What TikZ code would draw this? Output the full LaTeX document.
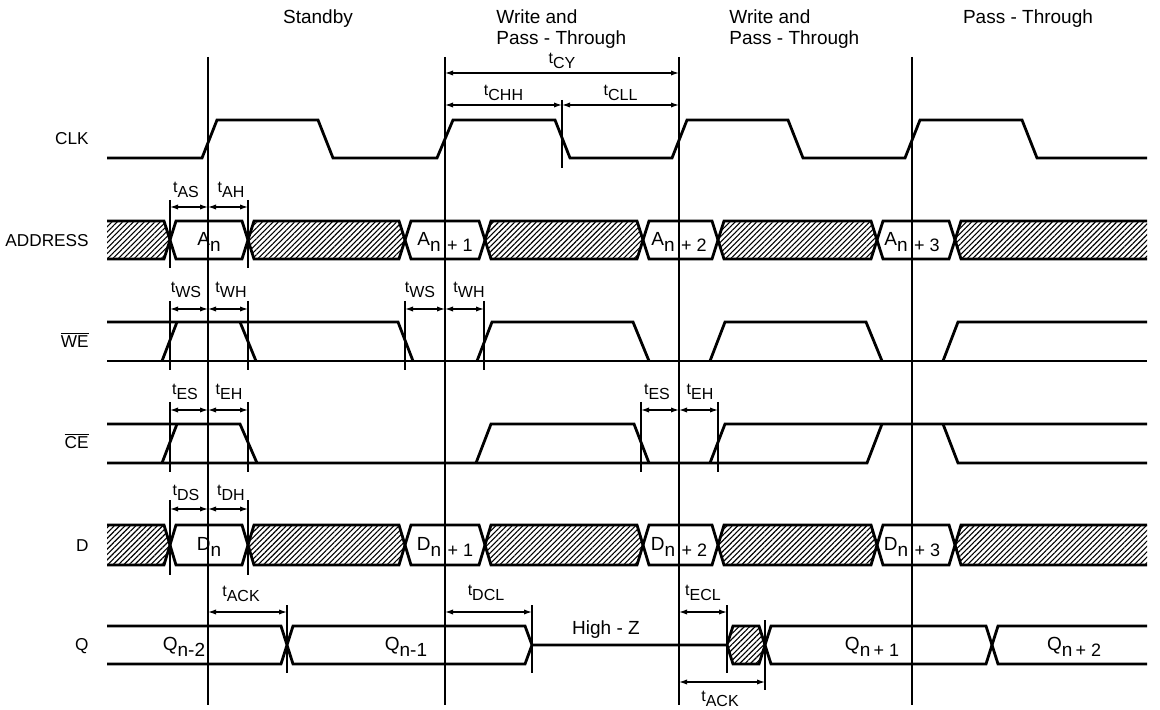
\documentclass[tikz,border=0pt]{standalone}
\usepackage{fontspec}
\setmainfont{Liberation Sans}
\usetikzlibrary{arrows.meta,patterns.meta}
\newcommand{\tsub}[1]{t\raisebox{-0.55ex}{#1}}
\newcommand{\isub}[2]{#1\raisebox{-0.55ex}{#2}}
\begin{document}
\begin{tikzpicture}[
		x=0.5pt, y=-0.5pt,
		every node/.style={font=\fontsize{9.5}{10.5}\selectfont, inner sep=1pt},
		signame/.style={anchor=east, font=\fontsize{8.6}{10}\selectfont},
		sig/.style={line width=1.4pt},
		refline/.style={line width=0.8pt},
		tick/.style={line width=0.7pt},
		dim/.style={<->, >={Latex[length=4pt,width=2.6pt]}, line width=0.6pt},
		tlab/.style={font=\fontsize{8}{9}\selectfont},
		busval/.style={font=\fontsize{9.5}{10.5}\selectfont},
		hatch/.style={pattern={Lines[angle=45,distance=1.9pt,line width=0.55pt]}},
		]
		
		\useasboundingbox (0,0) rectangle (1160,710);
		
		% mode headings
		\node (standby) at (318,19) {Standby};
		\node[align=left, anchor=west] (wpt1) at (494,29) {Write and\\Pass - Through};
		\node[align=left, anchor=west] (wpt2) at (727,29) {Write and\\Pass - Through};
		\node (passthru) at (1028,19) {Pass - Through};
		
		% signal names
		\node[signame] (clk)  at (91,139) {CLK};
		\node[signame] (addr) at (91,241) {ADDRESS};
		\node[signame] (we)   at (91,340) {$\overline{\mbox{WE}}$};
		\node[signame] (ce)   at (91,441) {$\overline{\mbox{CE}}$};
		\node[signame] (din)  at (91,546) {D};
		\node[signame] (qout) at (91,646) {Q};
		
		% clock edges
		\draw[refline] (208,57) -- (208,705);
		\draw[refline] (445,57) -- (445,705);
		\draw[refline] (679,57) -- (679,705);
		\draw[refline] (912,57) -- (912,705);
		\draw[tick] (562,100) -- (562,168);
		
		% CLK
		\draw[sig] (107,158) -- (202,158) -- (217,120) -- (318,120) -- (333,158)
		-- (437,158) -- (453,120) -- (555,120) -- (570,158) -- (672,158) -- (687,120)
		-- (788,120) -- (803,158) -- (905,158) -- (920,120) -- (1022,120) -- (1037,158)
		-- (1147,158);
		
		\draw[dim] (445,73) -- node[tlab, above=1pt] (tcy) {\tsub{CY}} (679,73);
		\draw[dim] (445,105) -- node[tlab, above=1pt] (tchh) {\tsub{CHH}} (562,105);
		\draw[dim] (562,105) -- node[tlab, above=1pt] (tcll) {\tsub{CLL}} (679,105);
		
		% ADDRESS
		\fill[hatch] (107,221) -- (164,221) -- (170,240) -- (164,259) -- (107,259) -- cycle
		(248,240) -- (254,221) -- (399,221) -- (405,240) -- (399,259) -- (254,259) -- cycle
		(485,240) -- (491,221) -- (637,221) -- (643,240) -- (637,259) -- (491,259) -- cycle
		(718,240) -- (724,221) -- (871,221) -- (877,240) -- (871,259) -- (724,259) -- cycle
		(955,240) -- (961,221) -- (1147,221) -- (1147,259) -- (961,259) -- cycle;
		\draw[sig] (107,221) -- (164,221) -- (176,259) -- (242,259) -- (254,221) -- (399,221)
		-- (411,259) -- (479,259) -- (491,221) -- (637,221) -- (649,259) -- (712,259)
		-- (724,221) -- (871,221) -- (883,259) -- (949,259) -- (961,221) -- (1147,221);
		\draw[sig] (107,259) -- (164,259) -- (176,221) -- (242,221) -- (254,259) -- (399,259)
		-- (411,221) -- (479,221) -- (491,259) -- (637,259) -- (649,221) -- (712,221)
		-- (724,259) -- (871,259) -- (883,221) -- (949,221) -- (961,259) -- (1147,259);
		\node[busval] (an)  at (209,242) {\isub{A}{n}};
		\node[busval] (an1) at (445,242) {\isub{A}{n\,\,{\small + 1}}};
		\node[busval] (an2) at (679,242) {\isub{A}{n\,\,{\small + 2}}};
		\node[busval] (an3) at (912,242) {\isub{A}{n\,\,{\small + 3}}};
		
		\draw[tick] (170,200) -- (170,268);
		\draw[tick] (248,200) -- (248,268);
		\draw[dim] (170,207) -- (208,207);
		\draw[dim] (208,207) -- (248,207);
		\node[tlab] (tas) at (186,190) {\tsub{AS}};
		\node[tlab] (tah) at (231,190) {\tsub{AH}};
		
		% WE
		\draw[sig] (107,361) -- (1147,361);
		\draw[sig] (107,322) -- (398,322) -- (413,361);
		\draw[sig] (162,361) -- (177,322);
		\draw[sig] (240,322) -- (256,361);
		\draw[sig] (477,361) -- (492,322) -- (633,322) -- (649,361);
		\draw[sig] (710,361) -- (725,322) -- (866,322) -- (882,361);
		\draw[sig] (943,361) -- (958,322) -- (1147,322);
		
		\draw[tick] (170,301) -- (170,370);
		\draw[tick] (248,301) -- (248,370);
		\draw[tick] (405,301) -- (405,370);
		\draw[tick] (484,301) -- (484,370);
		\draw[dim] (170,309) -- (208,309);
		\draw[dim] (208,309) -- (248,309);
		\draw[dim] (405,309) -- (445,309);
		\draw[dim] (445,309) -- (484,309);
		\node[tlab] (tws1) at (186,290) {\tsub{WS}};
		\node[tlab] (twh1) at (231,290) {\tsub{WH}};
		\node[tlab] (tws2) at (420,290) {\tsub{WS}};
		\node[tlab] (twh2) at (469,290) {\tsub{WH}};
		
		% CE
		\draw[sig] (107,463) -- (867,463) -- (882,424);
		\draw[sig] (107,424) -- (240,424) -- (257,463);
		\draw[sig] (162,463) -- (177,424);
		\draw[sig] (476,463) -- (491,424) -- (634,424) -- (649,463);
		\draw[sig] (710,463) -- (725,424) -- (1147,424);
		\draw[sig] (943,424) -- (958,463) -- (1147,463);
		
		\draw[tick] (170,402) -- (170,472);
		\draw[tick] (248,402) -- (248,472);
		\draw[tick] (641,402) -- (641,472);
		\draw[tick] (718,402) -- (718,472);
		\draw[dim] (170,410) -- (208,410);
		\draw[dim] (208,410) -- (248,410);
		\draw[dim] (641,410) -- (679,410);
		\draw[dim] (679,410) -- (718,410);
		\node[tlab] (tes1) at (185,392) {\tsub{ES}};
		\node[tlab] (teh1) at (229,392) {\tsub{EH}};
		\node[tlab] (tes2) at (657,392) {\tsub{ES}};
		\node[tlab] (teh2) at (700,392) {\tsub{EH}};
		
		% D
		\fill[hatch] (107,525) -- (164,525) -- (170,545) -- (164,565) -- (107,565) -- cycle
		(248,545) -- (254,525) -- (399,525) -- (405,545) -- (399,565) -- (254,565) -- cycle
		(485,545) -- (491,525) -- (637,525) -- (643,545) -- (637,565) -- (491,565) -- cycle
		(718,545) -- (724,525) -- (871,525) -- (877,545) -- (871,565) -- (724,565) -- cycle
		(955,545) -- (961,525) -- (1147,525) -- (1147,565) -- (961,565) -- cycle;
		\draw[sig] (107,525) -- (164,525) -- (176,565) -- (242,565) -- (254,525) -- (399,525)
		-- (411,565) -- (479,565) -- (491,525) -- (637,525) -- (649,565) -- (712,565)
		-- (724,525) -- (871,525) -- (883,565) -- (949,565) -- (961,525) -- (1147,525);
		\draw[sig] (107,565) -- (164,565) -- (176,525) -- (242,525) -- (254,565) -- (399,565)
		-- (411,525) -- (479,525) -- (491,565) -- (637,565) -- (649,525) -- (712,525)
		-- (724,565) -- (871,565) -- (883,525) -- (949,525) -- (961,565) -- (1147,565);
		\node[busval] (dn)  at (209,547) {\isub{D}{n}};
		\node[busval] (dn1) at (445,547) {\isub{D}{n\,\,{\small + 1}}};
		\node[busval] (dn2) at (679,547) {\isub{D}{n\,\,{\small + 2}}};
		\node[busval] (dn3) at (912,547) {\isub{D}{n\,\,{\small + 3}}};
		
		\draw[tick] (170,500) -- (170,575);
		\draw[tick] (248,500) -- (248,575);
		\draw[dim] (170,509) -- (208,509);
		\draw[dim] (208,509) -- (248,509);
		\node[tlab] (tds) at (186,493) {\tsub{DS}};
		\node[tlab] (tdh) at (231,493) {\tsub{DH}};
		
		% Q
		\fill[hatch] (727,645) -- (733,626) -- (759,626) -- (765,645) -- (759,664) -- (733,664) -- cycle;
		\draw[sig] (107,626) -- (281,626) -- (293,664) -- (525,664) -- (532,645) -- (525,626)
		-- (293,626) -- (281,664) -- (107,664);
		\draw[sig] (532,645) -- (727,645) -- (733,626) -- (759,626) -- (771,664) -- (986,664)
		-- (998,626) -- (1147,626);
		\draw[sig] (727,645) -- (733,664) -- (759,664) -- (771,626) -- (986,626) -- (998,664)
		-- (1147,664);
		\node[busval] (qn2) at (184,647) {\isub{Q}{n-2}};
		\node[busval] (qn1) at (406,647) {\isub{Q}{n-1}};
		\node (highz) at (606,630) {High - Z};
		\node[busval] (qp1) at (872,647) {\isub{Q}{n\,{\small + 1}}};
		\node[busval] (qp2) at (1074,647) {\isub{Q}{n\,{\small + 2}}};
		
		\draw[tick] (287,605) -- (287,673);
		\draw[tick] (532,605) -- (532,673);
		\draw[tick] (727,605) -- (727,673);
		\draw[tick] (765,620) -- (765,690);
		\draw[dim] (208,612) -- (287,612);
		\draw[dim] (445,612) -- (532,612);
		\draw[dim] (679,612) -- (727,612);
		\draw[dim] (679,682) -- (765,682);
		\node[tlab] (tack1) at (241,594) {\tsub{ACK}};
		\node[tlab] (tdcl)  at (486,593) {\tsub{DCL}};
		\node[tlab] (tecl)  at (703,593) {\tsub{ECL}};
		\node[tlab] (tack2) at (720,699) {\tsub{ACK}};
		
	\end{tikzpicture}
\end{document}
